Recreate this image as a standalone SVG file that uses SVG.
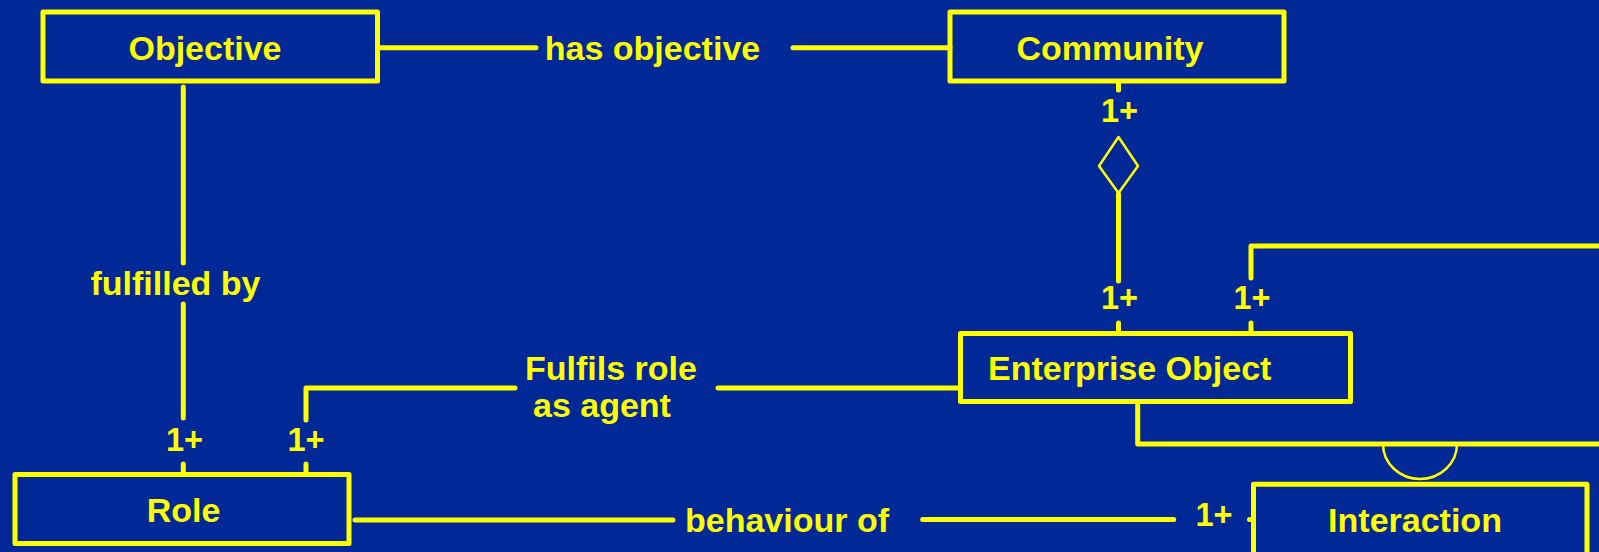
<svg xmlns="http://www.w3.org/2000/svg" width="1599" height="552" viewBox="0 0 1599 552">
  <style>
    .box { fill: none; stroke: #FFFF00; stroke-width: 5; stroke-linejoin: round; }
    .line { fill: none; stroke: #FFFF00; stroke-width: 5; stroke-linecap: round; stroke-linejoin: round; }
    .thin { fill: none; stroke: #FFFF00; stroke-width: 2.5; stroke-linejoin: round; }
    .label { font-family: "Liberation Sans", Arial, sans-serif; font-weight: bold; font-size: 34px; fill: #FFFF00; }
    .mult { font-family: "Liberation Sans", Arial, sans-serif; font-weight: bold; font-size: 32.5px; fill: #FFFF00; text-anchor: middle; }
    .mid { text-anchor: middle; }
  </style>

  <rect x="0" y="0" width="1599" height="552" fill="#002896"/>

  <!-- connectors -->
  <g id="connectors">
    <!-- Objective — has objective — Community -->
    <path class="line" d="M380 47.7 H536"/>
    <path class="line" d="M793 47.7 H950"/>
    <text class="label mid" x="652.5" y="60">has objective</text>

    <!-- Objective — fulfilled by — Role -->
    <path class="line" d="M183.3 87 V263"/>
    <path class="line" d="M183.3 304 V418"/>
    <path class="line" d="M183.3 464 V472"/>
    <text class="label mid" x="175.5" y="295">fulfilled by</text>
    <text class="mult" x="184.5" y="451">1+</text>

    <!-- Role — Fulfils role as agent — Enterprise Object -->
    <path class="line" d="M306 420 V388 H515"/>
    <path class="line" d="M718 388 H960"/>
    <path class="line" d="M306 464 V472"/>
    <text class="label" x="525" y="380">Fulfils role</text>
    <text class="label" x="533" y="417">as agent</text>
    <text class="mult" x="306" y="451">1+</text>

    <!-- Community aggregation of Enterprise Objects -->
    <path class="line" d="M1118.5 83 V90"/>
    <text class="mult" x="1119.5" y="122">1+</text>
    <path class="thin" d="M1118.5 137 L1138 166 L1118.5 193 L1099 166 Z"/>
    <path class="line" d="M1118.5 194 V281"/>
    <text class="mult" x="1119.5" y="309">1+</text>
    <path class="line" d="M1118.5 323 V331"/>

    <!-- Enterprise Object participation in Interaction -->
    <path class="line" d="M1251 278 V246 H1605"/>
    <path class="line" d="M1251 323 V331"/>
    <text class="mult" x="1252" y="309">1+</text>
    <path class="line" d="M1137.7 404 V444 H1605"/>
    <path class="thin" d="M1383 444 A37 35 0 0 0 1457 444"/>

    <!-- Role — behaviour of — Interaction -->
    <path class="line" d="M355 520 H673"/>
    <path class="line" d="M922.7 519.5 H1173.7"/>
    <path class="line" d="M1249.5 519.5 H1252"/>
    <text class="label" x="685" y="531.7">behaviour of</text>
    <text class="mult" x="1214" y="526">1+</text>
  </g>

  <g id="objective">
    <rect class="box" x="43" y="12" width="334.5" height="69"/>
    <text class="label mid" x="205" y="60">Objective</text>
  </g>

  <g id="community">
    <rect class="box" x="950" y="12" width="334" height="69"/>
    <text class="label mid" x="1110" y="60">Community</text>
  </g>

  <g id="enterprise-object">
    <rect class="box" x="960.5" y="333.5" width="390" height="68"/>
    <text class="label" x="988" y="380">Enterprise Object</text>
  </g>

  <g id="role">
    <rect class="box" x="15" y="474.5" width="334" height="69"/>
    <text class="label mid" x="183.5" y="521.7">Role</text>
  </g>

  <g id="interaction">
    <rect class="box" x="1253.5" y="484.3" width="333.5" height="72"/>
    <text class="label mid" x="1415" y="531.7">Interaction</text>
  </g>
</svg>
